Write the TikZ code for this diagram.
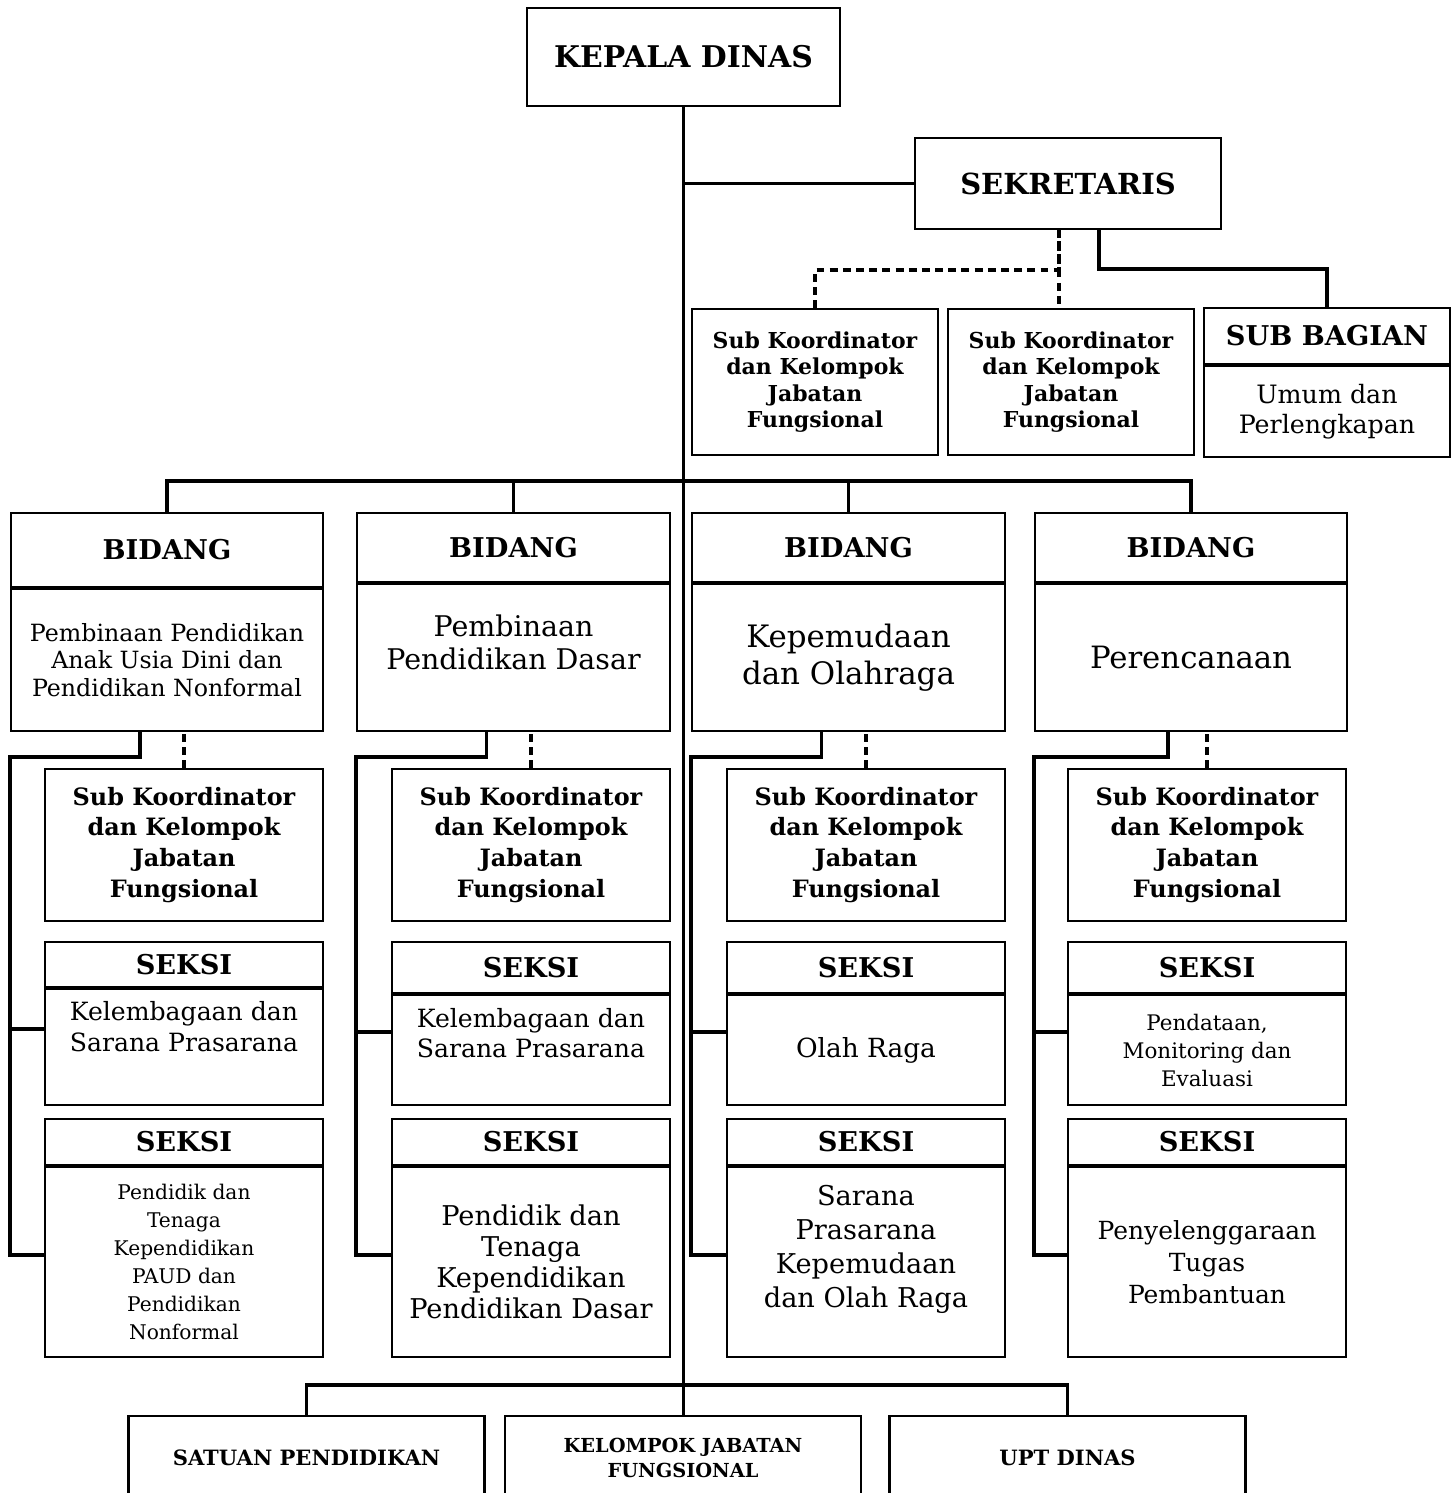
\documentclass[tikz,border=0pt]{standalone}
\usepackage{fontspec}
\setmainfont{DejaVu Serif}
\usepackage{tikz}
\usetikzlibrary{positioning}
\newcommand{\px}{0.02cm}
\newcommand{\fs}[2]{\fontsize{#1}{#2}\selectfont}
\tikzset{
	box/.style={draw, line width=1.2pt, rectangle, align=center, inner sep=1pt},
	head/.style={box, font=\bfseries\fs{15.5}{18}},
	line/.style={line width=2pt},
	dline/.style={line width=2pt, dash pattern=on 4.5pt off 3pt},
}

\begin{document}
\begin{tikzpicture}[x=0.02cm, y=-0.02cm]
			\useasboundingbox (0,0) rectangle (1451,1493);

			\node[box, font=\bfseries\fs{17}{20}, minimum width=313*\px, minimum height=98*\px] (kd) at (683.5,57) {KEPALA DINAS};
			\node[box, font=\bfseries\fs{16.5}{20}, minimum width=306*\px, minimum height=91*\px] (sek) at (1068,183.5) {SEKRETARIS};

			\node[box, font=\bfseries\fs{12.5}{15.1}, minimum width=246*\px, minimum height=146*\px] (sk1) at (815,382) {Sub Koordinator\\dan Kelompok\\Jabatan\\Fungsional};
			\node[box, font=\bfseries\fs{12.5}{15.1}, minimum width=246*\px, minimum height=146*\px] (sk2) at (1071,382) {Sub Koordinator\\dan Kelompok\\Jabatan\\Fungsional};
			\node[head, minimum width=246*\px, minimum height=56*\px] (sb) at (1327,336) {SUB BAGIAN};
			\node[box, font=\fs{14.4}{17}, minimum width=246*\px, minimum height=91*\px, anchor=north] (sbb) at (sb.south) {Umum dan\\Perlengkapan};

			\node[head, minimum width=312*\px, minimum height=74*\px] (B1) at (167,550) {BIDANG};
			\node[box, font=\fs{13.5}{15.9}, minimum width=312*\px, minimum height=142*\px, anchor=north] (B1b) at (B1.south) {Pembinaan Pendidikan\\Anak Usia Dini dan\\Pendidikan Nonformal};
			\node[head, minimum width=313*\px, minimum height=69*\px] (B2) at (513.5,547.5) {BIDANG};
			\node[box, font=\fs{16.2}{18.7}, minimum width=313*\px, minimum height=147*\px, anchor=north, text depth=18pt] (B2b) at (B2.south) {Pembinaan\\Pendidikan Dasar};
			\node[head, minimum width=313*\px, minimum height=69*\px] (B3) at (848.5,547.5) {BIDANG};
			\node[box, font=\fs{17.6}{21.5}, minimum width=313*\px, minimum height=147*\px, anchor=north] (B3b) at (B3.south) {Kepemudaan\\dan Olahraga};
			\node[head, minimum width=312*\px, minimum height=69*\px] (B4) at (1191,547.5) {BIDANG};
			\node[box, font=\fs{17.5}{21}, minimum width=312*\px, minimum height=147*\px, anchor=north] (B4b) at (B4.south) {Perencanaan};

			\node[box, font=\bfseries\fs{13.6}{17.6}, minimum width=278*\px, minimum height=152*\px] (K1) at (184,845) {Sub Koordinator\\dan Kelompok\\Jabatan\\Fungsional};
			\node[box, font=\bfseries\fs{13.6}{17.6}, minimum width=278*\px, minimum height=152*\px] (K2) at (531,845) {Sub Koordinator\\dan Kelompok\\Jabatan\\Fungsional};
			\node[box, font=\bfseries\fs{13.6}{17.6}, minimum width=278*\px, minimum height=152*\px] (K3) at (866,845) {Sub Koordinator\\dan Kelompok\\Jabatan\\Fungsional};
			\node[box, font=\bfseries\fs{13.6}{17.6}, minimum width=278*\px, minimum height=152*\px] (K4) at (1207,845) {Sub Koordinator\\dan Kelompok\\Jabatan\\Fungsional};

			\node[head, minimum width=278*\px, minimum height=45*\px] (S1) at (184,964.5) {SEKSI};
			\node[box, font=\fs{14.3}{17.6}, minimum width=278*\px, minimum height=116*\px, anchor=north, text depth=23pt] (S1b) at (S1.south) {Kelembagaan dan\\Sarana Prasarana};
			\node[head, minimum width=278*\px, minimum height=51*\px] (S2) at (531,967.5) {SEKSI};
			\node[box, font=\fs{14.3}{17.6}, minimum width=278*\px, minimum height=110*\px, anchor=north, text depth=19.5pt] (S2b) at (S2.south) {Kelembagaan dan\\Sarana Prasarana};
			\node[head, minimum width=278*\px, minimum height=51*\px] (S3) at (866,967.5) {SEKSI};
			\node[box, font=\fs{15}{18}, minimum width=278*\px, minimum height=110*\px, anchor=north] (S3b) at (S3.south) {Olah Raga};
			\node[head, minimum width=278*\px, minimum height=51*\px] (S4) at (1207,967.5) {SEKSI};
			\node[box, font=\fs{12.2}{16}, minimum width=278*\px, minimum height=110*\px, anchor=north] (S4b) at (S4.south) {Pendataan,\\Monitoring dan\\Evaluasi};

			\node[head, minimum width=278*\px, minimum height=46*\px] (T1) at (184,1142) {SEKSI};
			\node[box, font=\fs{11.5}{15.9}, minimum width=278*\px, minimum height=190*\px, anchor=north] (T1b) at (T1.south) {Pendidik dan\\Tenaga\\Kependidikan\\PAUD dan\\Pendidikan\\Nonformal};
			\node[head, minimum width=278*\px, minimum height=46*\px] (T2) at (531,1142) {SEKSI};
			\node[box, font=\fs{15.5}{17.6}, minimum width=278*\px, minimum height=190*\px, anchor=north] (T2b) at (T2.south) {Pendidik dan\\Tenaga\\Kependidikan\\Pendidikan Dasar};
			\node[head, minimum width=278*\px, minimum height=46*\px] (T3) at (866,1142) {SEKSI};
			\node[box, font=\fs{15.5}{19.3}, minimum width=278*\px, minimum height=190*\px, anchor=north, text depth=18pt] (T3b) at (T3.south) {Sarana\\Prasarana\\Kepemudaan\\dan Olah Raga};
			\node[head, minimum width=278*\px, minimum height=46*\px] (T4) at (1207,1142) {SEKSI};
			\node[box, font=\fs{14.2}{18}, minimum width=278*\px, minimum height=190*\px, anchor=north] (T4b) at (T4.south) {Penyelenggaraan\\Tugas\\Pembantuan};

			\node[box, font=\bfseries\fs{12}{14}, minimum width=356*\px, minimum height=84*\px] (U1) at (306.5,1458) {SATUAN PENDIDIKAN};
			\node[box, font=\bfseries\fs{11}{14.7}, minimum width=356*\px, minimum height=84*\px] (U2) at (683,1458) {KELOMPOK JABATAN\\FUNGSIONAL};
			\node[box, font=\bfseries\fs{12}{14}, minimum width=356*\px, minimum height=84*\px] (U3) at (1067.5,1458) {UPT DINAS};

			\draw[line] (kd.south) -- (kd.south |- U2.north);
			\draw[line] (sek.west) -- (sek.west -| kd.south);
			\draw[dline] (sk1.north) -- ++(0,-38) -| ([xshift=-9*\px]sek.south);
			\draw[dline] ([xshift=-9*\px]sek.south) -- ([xshift=-9*\px]sek.south |- sk2.north);
			\draw[line] ([xshift=31*\px]sek.south) -- ++(0,39) -| (sb.north);

			\draw[line] (B1.north) -- ++(0,-31) -| (B4.north);
			\draw[line] (B2.north) -- ++(0,-31);
			\draw[line] (B3.north) -- ++(0,-31);

			\draw[line] ([xshift=-27*\px]B1b.south) -- ++(0,25) -| ([yshift=7*\px]T1b.west -| B1b.west) -- ([yshift=7*\px]T1b.west);
			\draw[line] ([yshift=18*\px]S1b.west -| B1b.west) -- ([yshift=18*\px]S1b.west);
			\draw[dline] (K1.north) -- (K1.north |- B1b.south);
			\draw[line] ([xshift=-27*\px]B2b.south) -- ++(0,25) -| ([yshift=7*\px]T2b.west -| B2b.west) -- ([yshift=7*\px]T2b.west);
			\draw[line] ([yshift=18*\px]S2b.west -| B2b.west) -- ([yshift=18*\px]S2b.west);
			\draw[dline] (K2.north) -- (K2.north |- B2b.south);
			\draw[line] ([xshift=-27*\px]B3b.south) -- ++(0,25) -| ([yshift=7*\px]T3b.west -| B3b.west) -- ([yshift=7*\px]T3b.west);
			\draw[line] ([yshift=18*\px]S3b.west -| B3b.west) -- ([yshift=18*\px]S3b.west);
			\draw[dline] (K3.north) -- (K3.north |- B3b.south);
			\draw[line] ([xshift=-23*\px]B4b.south) -- ++(0,25) -| ([yshift=7*\px]T4b.west -| B4b.west) -- ([yshift=7*\px]T4b.west);
			\draw[line] ([yshift=18*\px]S4b.west -| B4b.west) -- ([yshift=18*\px]S4b.west);
			\draw[dline] (K4.north) -- (K4.north |- B4b.south);

			\draw[line] (U1.north) -- ++(0,-30) -| (U3.north);
\end{tikzpicture}
\end{document}
